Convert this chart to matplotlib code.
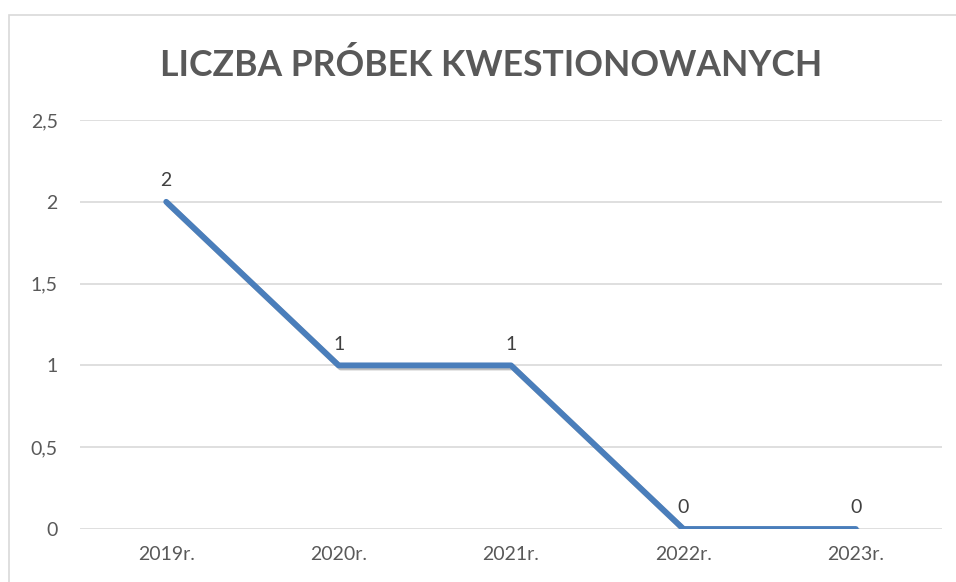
import matplotlib.pyplot as plt
import matplotlib.patches as patches
import matplotlib.patheffects as pe

# dane
lata = ["2019r.", "2020r.", "2021r.", "2022r.", "2023r."]
liczba_probek = [2, 1, 1, 0, 0]
y_ticks = [0, 0.5, 1, 1.5, 2, 2.5]
y_tick_labels = ["0", "0,5", "1", "1,5", "2", "2,5"]

plt.rcParams['font.family'] = ['Lato', 'DejaVu Sans']

fig = plt.figure(figsize=(9.56, 5.82), dpi=100)
ax = fig.add_axes([0.0837, 0.0911, 0.9017, 0.7027])

# ramka wykresu
fig.patches.append(patches.Rectangle((9 / 956, -0.1), 1.2, 1 - 15 / 582 + 0.1,
                                     transform=fig.transFigure, fill=False,
                                     edgecolor='#d9d9d9', linewidth=1.2))

x = list(range(len(lata)))
ax.plot(x, liczba_probek, color='#4a7ebb', linewidth=4.2, solid_capstyle='round',
        solid_joinstyle='round', zorder=3,
        path_effects=[pe.SimpleLineShadow(offset=(1.5, -1.5), alpha=0.25),
                      pe.Normal()])

for xi, v in zip(x, liczba_probek):
    ax.annotate(str(v), (xi, v), xytext=(0, 9), textcoords='offset points',
                ha='center', va='bottom', fontsize=14, color='#404040')

ax.set_xlim(-0.5, len(lata) - 0.5)
ax.set_ylim(0, 2.5)
ax.set_xticks(x)
ax.set_xticklabels(lata)
ax.set_yticks(y_ticks)
ax.set_yticklabels(y_tick_labels)
ax.tick_params(length=0, labelsize=14, labelcolor='#595959')
ax.tick_params(axis='x', pad=12)
ax.tick_params(axis='y', pad=16)
ax.grid(axis='y', color='#d9d9d9', linewidth=1.2)
ax.set_axisbelow(True)
for s in ax.spines.values():
    s.set_visible(False)

fig.text(0.514, 0.888, "LICZBA PRÓBEK KWESTIONOWANYCH", ha='center', va='center',
         fontsize=25.6, fontweight='bold', color='#595959')

plt.savefig("out.png", dpi=100)
